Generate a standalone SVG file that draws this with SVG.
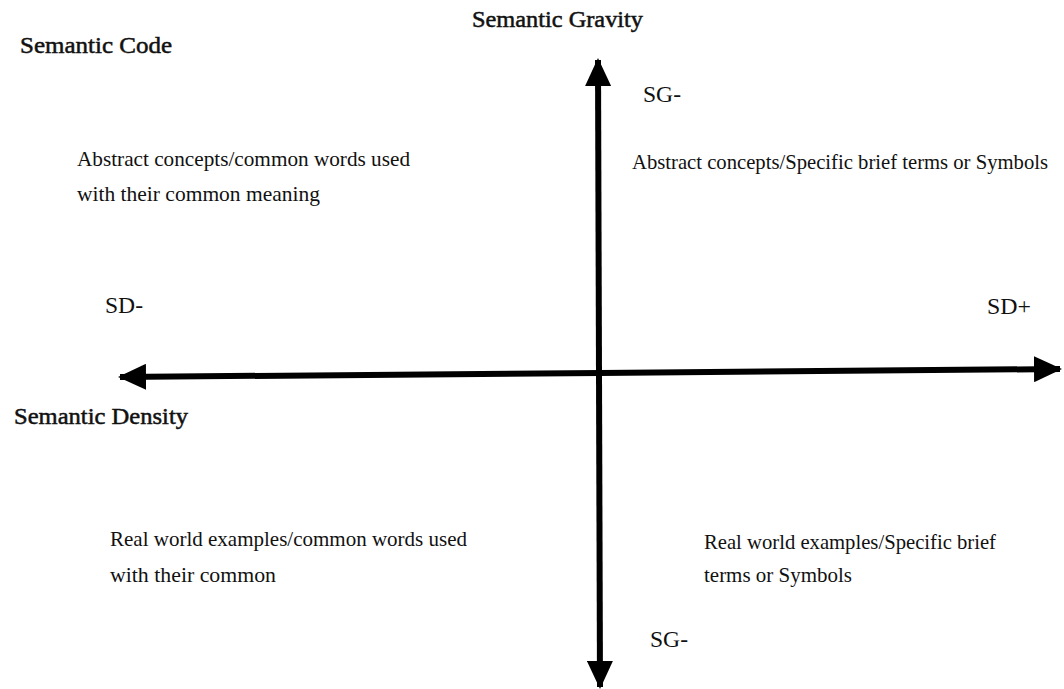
<svg xmlns="http://www.w3.org/2000/svg" width="1064" height="689" viewBox="0 0 1064 689">
<style>
.t{font-family:"Liberation Serif","Times New Roman",serif;fill:#111;}
.h{font-size:23px;stroke:#111;stroke-width:0.5;}
.q{font-size:22px;}
.l{font-size:23px;}
.ax{stroke:#000;stroke-width:6;fill:none;}
</style>
<defs>
<marker id="ah" markerUnits="userSpaceOnUse" markerWidth="28" markerHeight="26" refX="26" refY="13" orient="auto">
<path d="M0,0 L28,13 L0,26 Z" fill="#000"/>
</marker>
</defs>
<rect width="1064" height="689" fill="#fff"/>
<g id="connectors">
<line class="ax" x1="599" y1="374" x2="598" y2="60" marker-end="url(#ah)"/>
<line class="ax" x1="599" y1="374" x2="600" y2="687" marker-end="url(#ah)"/>
<line class="ax" x1="600" y1="373" x2="120" y2="377" marker-end="url(#ah)"/>
<line class="ax" x1="600" y1="373" x2="1060" y2="369" marker-end="url(#ah)"/>
</g>
<g id="title-code"><text class="t h" x="20" y="53" textLength="152" lengthAdjust="spacingAndGlyphs">Semantic Code</text></g>
<g id="title-gravity"><text class="t h" x="472" y="27" textLength="171" lengthAdjust="spacingAndGlyphs">Semantic Gravity</text></g>
<g id="title-density"><text class="t h" x="14" y="424" textLength="174" lengthAdjust="spacingAndGlyphs">Semantic Density</text></g>
<g id="label-sg-top"><text class="t l" x="643" y="102" textLength="38" lengthAdjust="spacingAndGlyphs">SG-</text></g>
<g id="label-sg-bottom"><text class="t l" x="650" y="647" textLength="38" lengthAdjust="spacingAndGlyphs">SG-</text></g>
<g id="label-sd-minus"><text class="t l" x="105" y="313" textLength="38" lengthAdjust="spacingAndGlyphs">SD-</text></g>
<g id="label-sd-plus"><text class="t l" x="987" y="314" textLength="44" lengthAdjust="spacingAndGlyphs">SD+</text></g>
<g id="q-top-left">
<text class="t q" x="77" y="166" textLength="333" lengthAdjust="spacingAndGlyphs">Abstract concepts/common words used</text>
<text class="t q" x="77" y="201" textLength="243" lengthAdjust="spacingAndGlyphs">with their common meaning</text>
</g>
<g id="q-top-right">
<text class="t" x="632" y="169" font-size="21" textLength="416" lengthAdjust="spacingAndGlyphs">Abstract concepts/Specific brief terms or Symbols</text>
</g>
<g id="q-bottom-left">
<text class="t q" x="110" y="546" textLength="357" lengthAdjust="spacingAndGlyphs">Real world examples/common words used</text>
<text class="t q" x="110" y="582" textLength="166" lengthAdjust="spacingAndGlyphs">with their common</text>
</g>
<g id="q-bottom-right">
<text class="t q" x="704" y="549" textLength="292" lengthAdjust="spacingAndGlyphs">Real world examples/Specific brief</text>
<text class="t q" x="704" y="582" textLength="148" lengthAdjust="spacingAndGlyphs">terms or Symbols</text>
</g>
</svg>
